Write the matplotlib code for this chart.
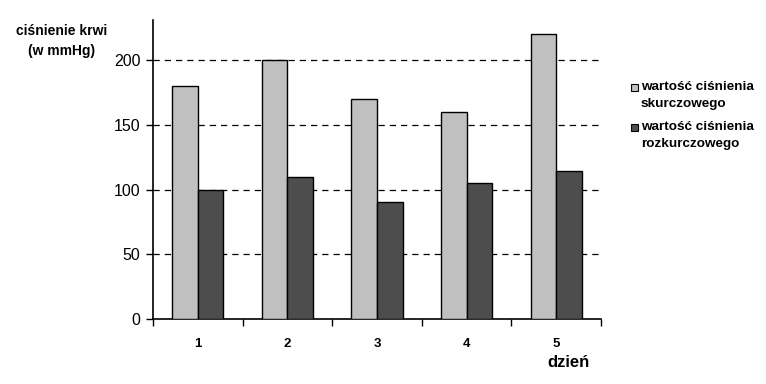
import matplotlib
matplotlib.use("Agg")
import matplotlib.pyplot as plt
import numpy as np
from matplotlib.patches import Rectangle

days = ["1", "2", "3", "4", "5"]
skurczowe = [180, 200, 170, 160, 220]
rozkurczowe = [100, 110, 90, 105, 114]
yticks = [0, 50, 100, 150, 200]
legend_lines = [["wartość ciśnienia", "skurczowego"], ["wartość ciśnienia", "rozkurczowego"]]
colors = ["#c0c0c0", "#4d4d4d"]

plt.rcParams['font.family'] = ['Liberation Sans', 'DejaVu Sans']

W, H = 766, 384
fig = plt.figure(figsize=(7.66, 3.84), dpi=100)
ax = fig.add_axes([0.1997, 0.1693, 0.5849, 0.7787])

x = np.arange(len(days))
w = 0.285
ax.bar(x - w/2, skurczowe, w, color=colors[0], edgecolor="black", linewidth=1, zorder=3)
ax.bar(x + w/2, rozkurczowe, w, color=colors[1], edgecolor="black", linewidth=1, zorder=3)

ax.set_xlim(-0.5, len(days) - 0.5)
ax.set_ylim(0, 231)
ax.set_yticks(yticks)
ax.set_yticklabels([str(v) for v in yticks], fontsize=11.5)
for v in yticks[1:]:
    ax.axhline(v, color="black", linestyle=(0, (5, 4)), linewidth=0.9, zorder=1)

ax.set_xticks(np.arange(-0.5, len(days) + 0.5, 1.0))
ax.set_xticklabels([])
ax.set_xticks(x, minor=True)
ax.set_xticklabels(days, minor=True, fontsize=9.5, fontweight="bold")
ax.tick_params(axis="x", which="minor", length=0, pad=14)
ax.tick_params(axis="x", which="major", length=5, width=1, direction="out")
ax.tick_params(axis="y", length=5, width=1, direction="out", pad=4)

for s in ["top", "right"]:
    ax.spines[s].set_visible(False)
for s in ["left", "bottom"]:
    ax.spines[s].set_linewidth(1.2)

fig.text(0.081, 0.918, "ciśnienie krwi", fontsize=10, fontweight="bold", ha="center", va="center")
fig.text(0.081, 0.866, "(w mmHg)", fontsize=10, fontweight="bold", ha="center", va="center")
fig.text(0.742, 0.055, "dzień", fontsize=12, fontweight="bold", ha="center", va="center")

# legend drawn manually
first_line_y = [87, 127]
line_gap = 16.5
for i, (lines, c) in enumerate(zip(legend_lines, colors)):
    y0 = first_line_y[i]
    fig.patches.append(Rectangle((631 / W, 1 - (y0 + 3.5) / H), 7 / W, 7 / H,
                                 facecolor=c, edgecolor="black", linewidth=0.8,
                                 transform=fig.transFigure, figure=fig))
    for j, t in enumerate(lines):
        fig.text(641 / W, 1 - (y0 + j * line_gap) / H, t, fontsize=9.7, fontweight="bold",
                 ha="left", va="center")

fig.savefig("out.png", dpi=100)
